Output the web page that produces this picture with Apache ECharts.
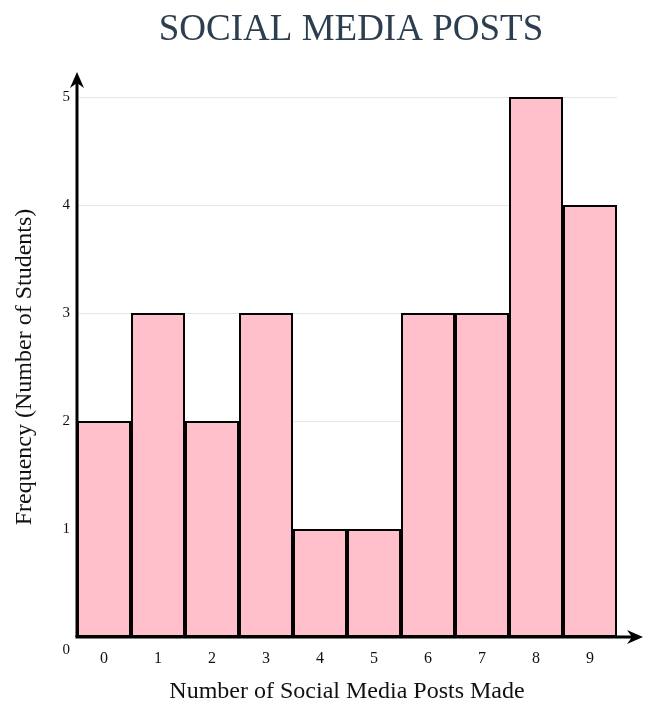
<!DOCTYPE html>
<html><head>
<meta charset="utf-8">
<title>Social Media Posts</title>
<script src="https://cdn.jsdelivr.net/npm/echarts@6/dist/echarts.min.js"></script>
<style>
html,body{margin:0;padding:0;background:#fff;}
#main{width:658px;height:706px;}
</style>
</head>
<body>
<div id="main"></div>
<script type="text/javascript">
// data
var postCounts = ['0', '1', '2', '3', '4', '5', '6', '7', '8', '9'];
var studentFreq = [2, 3, 2, 3, 1, 1, 3, 3, 5, 4];
var yTicks = [0, 1, 2, 3, 4, 5];

var serif = '"Liberation Serif", "DejaVu Serif", serif';
var myChart = echarts.init(document.getElementById('main'));

var option = {
    backgroundColor: '#fff',
    animation: false,
    title: {
        text: 'SOCIAL MEDIA POSTS',
        left: 346,
        top: 7,
        textAlign: 'center',
        textStyle: { fontFamily: serif, fontSize: 37, fontWeight: 'normal', color: '#2c3e50' }
    },
    grid: { left: 77, right: 41, top: 97, bottom: 69, containLabel: false, outerBoundsMode: 'none' },
    xAxis: {
        type: 'category',
        data: postCounts,
        name: 'Number of Social Media Posts Made',
        nameLocation: 'middle',
        nameGap: 43,
        nameTextStyle: { fontFamily: serif, fontSize: 24, color: '#111' },
        axisLine: { show: false },
        axisTick: { show: false },
        axisLabel: { margin: 14, fontFamily: serif, fontSize: 16, color: '#111' }
    },
    yAxis: {
        type: 'value',
        min: yTicks[0],
        max: yTicks[yTicks.length - 1],
        interval: 1,
        name: 'Frequency (Number of Students)',
        nameLocation: 'middle',
        nameGap: 40,
        nameTextStyle: { fontFamily: serif, fontSize: 24, color: '#111' },
        axisLine: { show: false },
        axisTick: { show: false },
        splitLine: { lineStyle: { color: '#e6e6e6', width: 1 } },
        axisLabel: {
            margin: 7,
            fontFamily: serif, fontSize: 15, color: '#111',
            formatter: function (v) { return v === 0 ? '{z|0}' : String(v); },
            rich: { z: { fontFamily: serif, fontSize: 15, color: '#111', padding: [26, 0, 0, 0] } }
        }
    },
    series: [{
        name: 'Students',
        type: 'bar',
        data: studentFreq,
        barCategoryGap: 0,
        itemStyle: { color: '#ffc0cb', borderColor: '#000', borderWidth: 2 }
    }]
};
myChart.setOption(option);

// axis lines with arrow heads, placed from the library's own scale
var o = myChart.convertToPixel({ yAxisIndex: 0 }, 0);
var x0 = 77, xEnd = 643, yTop = 72;
myChart.setOption({
    graphic: [
        { type: 'line', shape: { x1: x0, y1: o, x2: x0, y2: yTop + 10 }, style: { stroke: '#000', lineWidth: 3 }, z: 10 },
        { type: 'line', shape: { x1: x0 - 1.5, y1: o, x2: xEnd - 10, y2: o }, style: { stroke: '#000', lineWidth: 3 }, z: 10 },
        { type: 'polygon', shape: { points: [[x0, yTop], [x0 - 7, yTop + 16], [x0, yTop + 11], [x0 + 7, yTop + 16]] }, style: { fill: '#000' }, z: 10 },
        { type: 'polygon', shape: { points: [[xEnd, o], [xEnd - 16, o - 7], [xEnd - 11, o], [xEnd - 16, o + 7]] }, style: { fill: '#000' }, z: 10 }
    ]
});
</script>
</body>
</html>
